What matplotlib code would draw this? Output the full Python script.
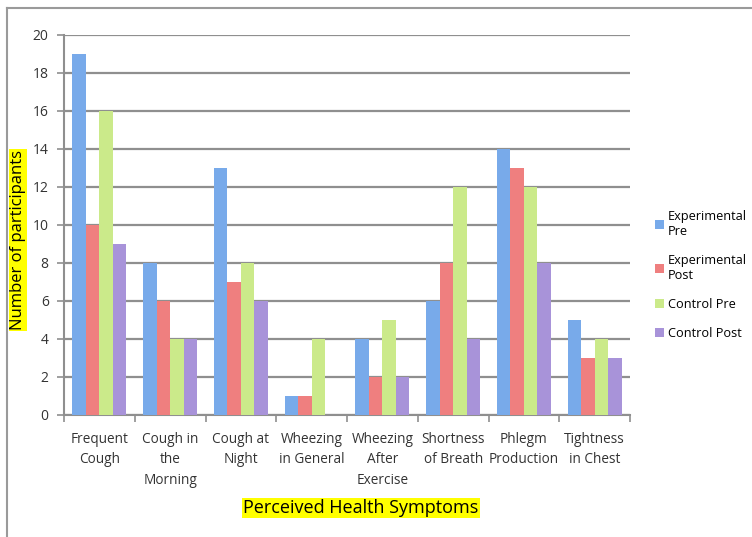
import matplotlib
matplotlib.use("Agg")
import matplotlib.pyplot as plt
import numpy as np
from matplotlib.lines import Line2D

categories = ["Frequent\nCough", "Cough in\nthe\nMorning", "Cough at\nNight", "Wheezing\nin General",
              "Wheezing\nAfter\nExercise", "Shortness\nof Breath", "Phlegm\nProduction", "Tightness\nin Chest"]
series_names = ["Experimental\nPre", "Experimental\nPost", "Control Pre", "Control Post"]
exp_pre = [19, 8, 13, 1, 4, 6, 14, 5]
exp_post = [10, 6, 7, 1, 2, 8, 13, 3]
ctrl_pre = [16, 4, 8, 4, 5, 12, 12, 4]
ctrl_post = [9, 4, 6, 0, 2, 4, 8, 3]
yticks = [0, 2, 4, 6, 8, 10, 12, 14, 16, 18, 20]

colors = ["#78aaea", "#ef7f7f", "#cbea8a", "#a893d9"]
plt.rcParams['font.family'] = ['Open Sans', 'DejaVu Sans']

fig = plt.figure(figsize=(7.52, 5.37), dpi=100)
ax = fig.add_axes([64/752, 1-415/537, (630-64)/752, (415-35)/537])

x = np.arange(len(categories))
w = 0.19
data = [exp_pre, exp_post, ctrl_pre, ctrl_post]
for i, (vals, c, name) in enumerate(zip(data, colors, series_names)):
    ax.bar(x + (i - 1.5) * w, vals, width=w, color=c, label=name, zorder=3, linewidth=0)

ax.set_xlim(-0.5, len(categories) - 0.5)
ax.set_ylim(0, 20)
ax.set_yticks(yticks)
ax.set_yticklabels([str(t) for t in yticks], fontsize=10, color="#333333")
ax.yaxis.grid(True, color="#8f8f8f", linewidth=1.6, zorder=0)
ax.set_axisbelow(True)
ax.set_xticks(x)
ax.set_xticklabels(categories, fontsize=9.8, color="#333333", linespacing=1.5)
ax.tick_params(axis='x', length=0, pad=12)
ax.set_xticks(np.arange(-0.5, len(categories)), minor=True)
ax.tick_params(axis='x', which='minor', length=5, color="#8f8f8f", width=1.2)
ax.tick_params(axis='y', length=5, color="#8f8f8f", width=1.2, pad=6)
for s in ['top', 'right']:
    ax.spines[s].set_visible(False)
for s in ['left', 'bottom']:
    ax.spines[s].set_color("#8f8f8f")
    ax.spines[s].set_linewidth(1.5)

fig.text(18/752, 1-240/537, "Number of participants", rotation=90, fontsize=12,
         ha='center', va='center', color="black",
         bbox=dict(facecolor="#ffff00", edgecolor="none", pad=1))
fig.text(361/752, 1-508/537, "Perceived Health Symptoms", fontsize=13,
         ha='center', va='center', color="black",
         bbox=dict(facecolor="#ffff00", edgecolor="none", pad=1))

leg = ax.legend(loc='upper left', bbox_to_anchor=(650/752, 1-205/537), bbox_transform=fig.transFigure,
                frameon=False, fontsize=9.2, handlelength=0.7, handleheight=0.7, handletextpad=0.3,
                labelspacing=1.25, borderaxespad=0)

fig.add_artist(Line2D([7/752, 7/752], [0, 1-8/537], transform=fig.transFigure, color="#9a9a9a", linewidth=1.5))
fig.add_artist(Line2D([7/752, 1], [1-8/537, 1-8/537], transform=fig.transFigure, color="#9a9a9a", linewidth=1.5))

fig.savefig("out.png", dpi=100)
